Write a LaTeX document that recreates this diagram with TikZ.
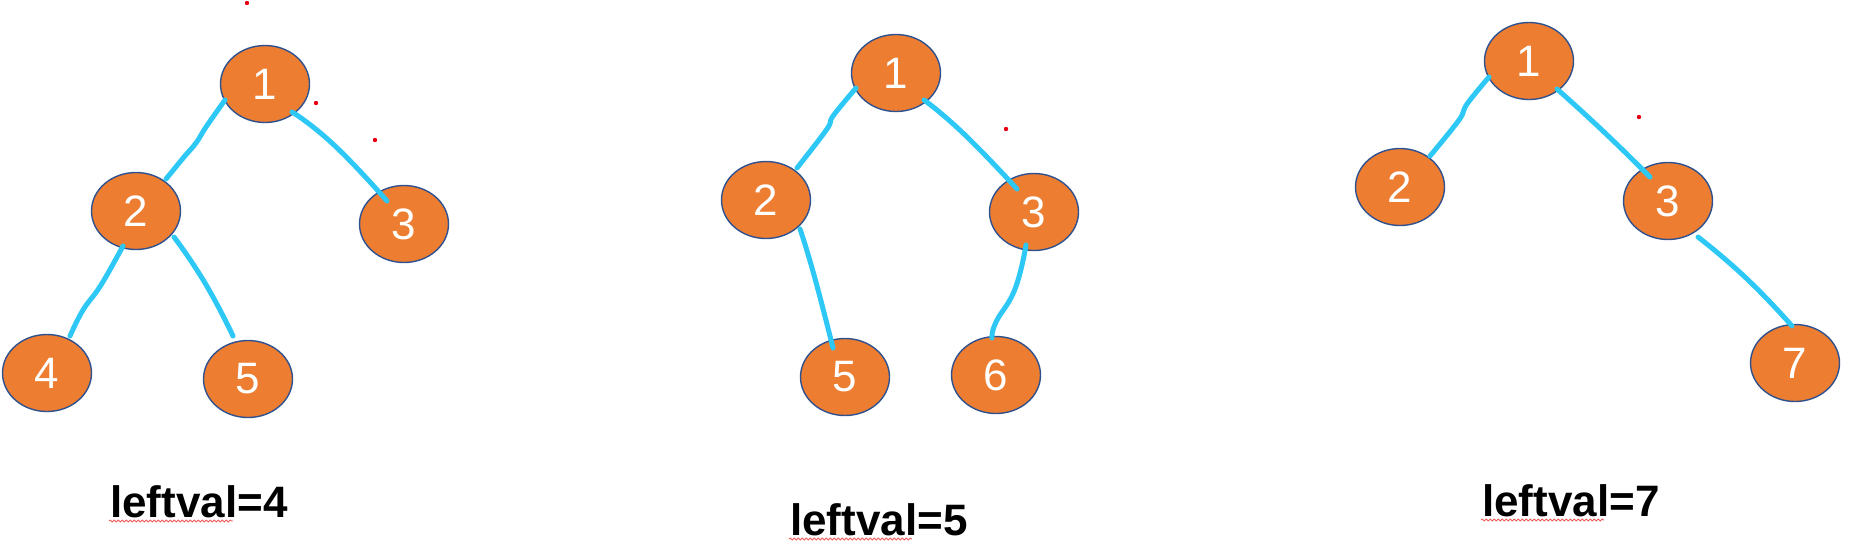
\documentclass[tikz,border=0pt]{standalone}
\usepackage{fontspec}
\setmainfont{Liberation Sans}
\usetikzlibrary{shapes.geometric,calc,decorations.pathmorphing}
\definecolor{nodeorange}{RGB}{237,125,49}
\definecolor{nodeborder}{RGB}{47,82,143}
\definecolor{edgecyan}{RGB}{45,200,245}
\definecolor{dotred}{RGB}{230,0,18}
\definecolor{spellred}{RGB}{240,90,90}
\tikzset{
  tnode/.style={ellipse, fill=nodeorange, draw=nodeborder, line width=1.4pt,
    minimum width=89pt, minimum height=77pt, inner sep=0pt,
    text=white, font=\fontsize{44}{44}\selectfont},
  edge/.style={draw=edgecyan, line width=5pt, line cap=round, line join=round},
  lbl/.style={anchor=base west, inner sep=0pt, font=\fontsize{44}{44}\selectfont\bfseries},
  spell/.style={draw=spellred, line width=0.9pt, decorate,
    decoration={snake, segment length=4pt, amplitude=0.9pt}},
  rdot/.style={fill=dotred, draw=none}
}
\begin{document}
\begin{tikzpicture}[x=1pt, y=-1pt]
\useasboundingbox (0,0) rectangle (1852,550);
% ---------- tree 1 ----------
\node[tnode] (a1) at (265,84) {1};
\node[tnode] (a2) at (136,211) {2};
\node[tnode] (a3) at (404,224) {3};
\node[tnode] (a4) at (47,373) {4};
\node[tnode] (a5) at (248,379) {5};
\draw[edge] plot[smooth, tension=0.6] coordinates {($(a1)+(-40,16)$) (206,127) (196,143) (184,157) ($(a2)+(30,-32)$)};
\draw[edge] plot[smooth, tension=0.9] coordinates {($(a1)+(27,28)$) (334,145) ($(a3)+(-17,-23)$)};
\draw[edge] plot[smooth, tension=0.7] coordinates {($(a2)+(-13,35)$) (101,285) (83,310) ($(a4)+(23,-37)$)};
\draw[edge] plot[smooth, tension=0.9] coordinates {($(a2)+(38,26)$) (205,283) ($(a5)+(-15,-43)$)};
\node[lbl] (la) at (110,517) {leftval=4};
\draw[spell] (109,521) -- (233,521);
% ---------- tree 2 ----------
\node[tnode] (b1) at (896,73) {1};
\node[tnode] (b2) at (766,200) {2};
\node[tnode] (b3) at (1034,212) {3};
\node[tnode] (b5) at (845,377) {5};
\node[tnode] (b6) at (996,375) {6};
\draw[edge] plot[smooth, tension=0.6] coordinates {($(b1)+(-40,15)$) (833,116) (827,129) ($(b2)+(31,-32)$)};
\draw[edge] plot[smooth, tension=0.9] coordinates {($(b1)+(28,27)$) (964,134) ($(b3)+(-17,-23)$)};
\draw[edge] plot[smooth, tension=0.9] coordinates {($(b2)+(34,29)$) (814,275) ($(b5)+(-12,-29)$)};
\draw[edge] plot[smooth, tension=0.8] coordinates {($(b3)+(-8,33)$) (1015,289) (996,322) ($(b6)+(-4,-37)$)};
\node[lbl] (lb) at (790,535) {leftval=5};
\draw[spell] (789,539) -- (912,539);
% ---------- tree 3 ----------
\node[tnode] (c1) at (1529,61) {1};
\node[tnode] (c2) at (1400,187) {2};
\node[tnode] (c3) at (1668,201) {3};
\node[tnode] (c7) at (1795,363) {7};
\draw[edge] plot[smooth, tension=0.6] coordinates {($(c1)+(-40,16)$) (1467,104) (1459,120) ($(c2)+(30,-31)$)};
\draw[edge] plot[smooth, tension=0.9] coordinates {($(c1)+(28,28)$) (1604,132) ($(c3)+(-18,-24)$)};
\draw[edge] plot[smooth, tension=0.9] coordinates {($(c3)+(30,36)$) (1746,278) ($(c7)+(-3,-37)$)};
\node[lbl] (lc) at (1482,516) {leftval=7};
\draw[spell] (1481,520) -- (1604,520);
% ---------- red dots ----------
\fill[rdot] (247,3) circle (2.2);
\fill[rdot] (316,103) circle (2.2);
\fill[rdot] (375,140) circle (2.2);
\fill[rdot] (1006,129) circle (2.2);
\fill[rdot] (1639,117) circle (2.2);
\end{tikzpicture}
\end{document}
